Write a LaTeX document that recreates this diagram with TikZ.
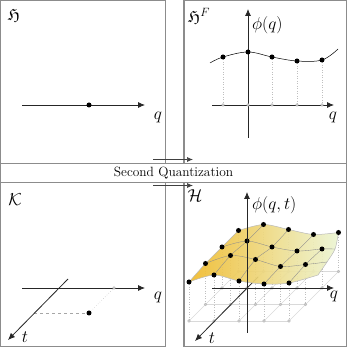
\documentclass[tikz,border=0pt]{standalone}
\usepackage{amssymb}
\usepackage{fontspec}
\usetikzlibrary{arrows.meta}
\definecolor{boxgray}{RGB}{140,140,140}
\definecolor{surfL}{RGB}{240,186,42}
\definecolor{surfM}{RGB}{244,230,112}
\definecolor{surfR}{RGB}{236,245,212}
\tikzset{
  panel/.style={draw=boxgray, line width=1.1pt},
  axis/.style={draw=black!85, line width=0.8pt, -{Latex[length=7pt,width=6pt]}},
  sqarrow/.style={draw=black!75, line width=0.7pt, -{Latex[length=6pt,width=5pt]}},
  bigdot/.style={circle, fill=black, inner sep=0pt, minimum size=5pt},
  smalldot/.style={circle, fill=gray!40, draw=gray!65, line width=0.3pt, inner sep=0pt, minimum size=3pt},
  lab/.style={font=\fontsize{16.8}{20}\selectfont, inner sep=0pt},
  guide/.style={draw=gray!50, dotted, line width=0.5pt},
  dashguide/.style={draw=gray!70, dashed, line width=0.5pt},
  basegrid/.style={draw=gray!30, line width=0.4pt},
  surfgrid/.style={draw=black!45, line width=0.35pt},
  curve/.style={draw=black, line width=0.5pt},
}
\begin{document}
\begin{tikzpicture}[x=1pt,y=-1pt]
\useasboundingbox (0,0) rectangle (349,347);
% panels
\draw[panel] (0.6,0.6) rectangle (165.5,163.5);
\draw[panel] (184,0.6) rectangle (346.4,163.5);
\draw[panel] (0.6,182.5) rectangle (165.5,346.4);
\draw[panel] (184,182.5) rectangle (346.4,346.4);
% band
\node[draw=boxgray, line width=1.1pt, fill=white, minimum width=345.8pt, minimum height=19pt, inner sep=0pt,
      font=\fontsize{13.4}{16}\selectfont] (sq) at (173.5,173) {Second Quantization};
\coordinate (a1) at (153,159.5); \coordinate (b1) at (193,159.5);
\coordinate (a2) at (153,185.5); \coordinate (b2) at (193,185.5);
\draw[sqarrow] (a1) -- (b1);
\draw[sqarrow] (a2) -- (b2);

% ---------- panel 1
\node[lab] (l1) at (14,15) {$\mathfrak{H}$};
\coordinate (p1s) at (22,105); \coordinate (p1e) at (145,105);
\draw[axis] (p1s) -- (p1e);
\node[bigdot] (d1) at (89,105) {};
\node[lab] (q1) at (158,117) {$q$};

% ---------- panel 2
\node[lab, anchor=west] (l2) at (188,16) {$\mathfrak{H}^F$};
\coordinate (v2s) at (248,138); \coordinate (v2e) at (248,9);
\coordinate (h2s) at (212,105); \coordinate (h2e) at (334,105);
\foreach \n/\x/\y in {a/223/57, b/248/52, c/272/57, d/297/61, e/322/60}{
  \coordinate (c\n) at (\x,\y);
  \coordinate (ax\n) at (\x,105);
  \draw[guide] (c\n) -- (ax\n);
}
\draw[axis] (h2s) -- (h2e);
\draw[axis] (v2s) -- (v2e);
\foreach \n in {a,b,c,d,e}{ \node[smalldot] (sd\n) at (ax\n) {}; }
\coordinate (c0) at (210,63); \coordinate (c9) at (338,49);
\draw[curve] plot[smooth, tension=0.6] coordinates {(c0) (ca) (cb) (cc) (cd) (ce) (c9)};
\foreach \n in {a,b,c,d,e}{ \node[bigdot] (bd\n) at (c\n) {}; }
\node[lab, anchor=west] (phi1) at (252,25) {$\phi(q)$};
\node[lab] (q2) at (333,117) {$q$};

% ---------- panel 3
\node[lab] (l3) at (15,200) {$\mathcal{K}$};
\coordinate (h3s) at (22,288); \coordinate (h3e) at (145,288);
\coordinate (t3s) at (68,279); \coordinate (t3e) at (8,340);
\node[bigdot] (d3) at (89,313) {};
\coordinate (tp3) at (34,313);
\coordinate (qp3) at (114,288);
\draw[dashguide] (tp3) -- (d3);
\draw[guide] (d3) -- (qp3);
\draw[axis] (h3s) -- (h3e);
\draw[axis] (t3s) -- (t3e);
\node[smalldot] (sq3) at (qp3) {};
\node[lab] (q3) at (158,297) {$q$};
\node[lab] (t3) at (25,337) {$t$};

% ---------- panel 4
\node[lab] (l4) at (195,196) {$\mathcal{H}$};
% base points
\foreach \j in {0,...,3}{
  \foreach \i in {0,...,4}{
    \coordinate (b-\i-\j) at ({189+25*\i+16.5*\j},{321-16.5*\j});
  }
}
% surface points
\foreach \j/\row in {0/{39,46,40,37,38},1/{41,49,45,38,40},2/{41,47,41,37,39},3/{41,47,42,37,39}}{
  \foreach \h [count=\ii from 0] in \row {
    \coordinate (s-\ii-\j) at ({189+25*\ii+16.5*\j},{321-16.5*\j-\h});
  }
}
% right edge of the surface
\coordinate (e-0) at (318,275);
\coordinate (e-1) at (327,262);
\coordinate (e-2) at (335,249);
\coordinate (e-3) at (s-4-3);
\begin{scope}
\clip (184.6,183) rectangle (345.8,345.8);
% base grid
\foreach \j in {0,...,3}{ \draw[basegrid] (b-0-\j) -- (b-4-\j); }
\foreach \i in {0,...,4}{ \draw[basegrid] (b-\i-0) -- (b-\i-3); }
% dotted verticals
\foreach \j in {0,...,3}{
  \foreach \i in {0,...,4}{ \draw[guide] (s-\i-\j) -- (b-\i-\j); }
}
\foreach \j in {0,...,3}{
  \foreach \i in {0,...,4}{ \node[smalldot] (bd-\i-\j) at (b-\i-\j) {}; }
}
% axes q and t
\coordinate (h4s) at (212,288); \coordinate (h4e) at (334,288);
\coordinate (t4s) at (258,277); \coordinate (t4e) at (195,341);
\draw[axis] (h4s) -- (h4e);
\draw[axis] (t4s) -- (t4e);
% surface
\path[left color=surfL, middle color=surfM, right color=surfR, fill opacity=0.92, draw=gray!55, line width=0.5pt]
  plot[smooth] coordinates {(s-0-0) (s-1-0) (s-2-0) (s-3-0) (s-4-0) (e-0)}
  -- plot[smooth] coordinates {(e-0) (e-1) (e-2) (e-3)}
  -- plot[smooth] coordinates {(s-4-3) (s-3-3) (s-2-3) (s-1-3) (s-0-3)}
  -- plot[smooth] coordinates {(s-0-3) (s-0-2) (s-0-1) (s-0-0)}
  -- cycle;
\foreach \j in {1,2}{
  \draw[surfgrid] plot[smooth] coordinates {(s-0-\j) (s-1-\j) (s-2-\j) (s-3-\j) (s-4-\j) (e-\j)};
}
\foreach \i in {1,...,3}{
  \draw[surfgrid] plot[smooth] coordinates {(s-\i-0) (s-\i-1) (s-\i-2) (s-\i-3)};
}
\draw[surfgrid] plot[smooth] coordinates {(s-4-0) (s-4-1) (s-4-2)};
\foreach \j in {0,...,3}{
  \foreach \i in {0,...,4}{ \node[bigdot] (sd-\i-\j) at (s-\i-\j) {}; }
}
\end{scope}
\coordinate (v4s) at (247,333); \coordinate (v4e) at (247,192);
\draw[axis] (v4s) -- (v4e);
\node[lab, anchor=west] (phi2) at (252,205) {$\phi(q,t)$};
\node[lab] (q4) at (334,296) {$q$};
\node[lab] (t4) at (212,338) {$t$};
\end{tikzpicture}
\end{document}
